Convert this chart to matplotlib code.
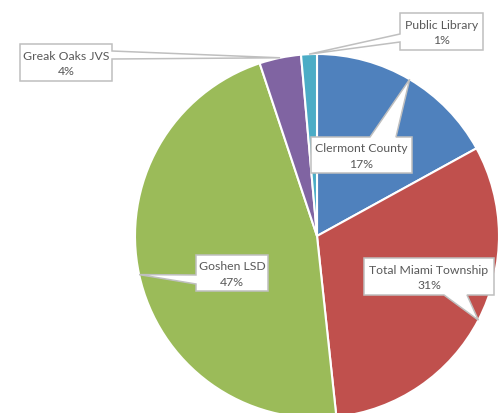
import numpy as np
import matplotlib.pyplot as plt
from matplotlib.patches import Polygon

labels = ['Clermont County', 'Total Miami Township', 'Goshen LSD', 'Greak Oaks JVS', 'Public Library']
values = [17.0, 31.3, 46.6, 3.7, 1.4]
pct_text = ['17%', '31%', '47%', '4%', '1%']
colors = ['#4F81BD', '#C0504D', '#9BBB59', '#8064A2', '#4BACC6']

W, H = 500, 414
cx, cy, R = 317, 237, 182  # pixel coords (y down)

# callout layout: box (x0, y0, x1, y1) in pixels, side of pointer, base positions
callouts = [
    ((311, 138, 412, 174), 'top', (370, 396)),
    ((364, 259, 494, 296), 'bottom', (444, 467)),
    ((196, 256, 268, 292), 'left', (276, 285)),
    ((20, 45, 112, 82), 'right', (52, 60)),
    ((400, 14, 483, 51), 'left', (35, 43)),
]

fig = plt.figure(figsize=(W / 100, H / 100), dpi=100)
ax = fig.add_axes([0, 0, 1, 1])

wedges, _ = ax.pie(values, colors=colors, startangle=90, counterclock=False,
                   center=(cx, cy), radius=R, frame=True,
                   wedgeprops=dict(edgecolor='white', linewidth=1.5))
ax.set_xlim(0, W)
ax.set_ylim(H, 0)
ax.set_aspect('equal')
ax.axis('off')

# pie drawn in y-up sense; since y axis is flipped, mirror the angles
for w in wedges:
    t1, t2 = w.theta1, w.theta2
    w.set_theta1(-t2)
    w.set_theta2(-t1)


def callout_poly(box, side, base, tip):
    x0, y0, x1, y1 = box
    b0, b1 = base
    if side == 'top':
        pts = [(x0, y0), (b0, y0), tip, (b1, y0), (x1, y0), (x1, y1), (x0, y1)]
    elif side == 'bottom':
        pts = [(x0, y0), (x1, y0), (x1, y1), (b1, y1), tip, (b0, y1), (x0, y1)]
    elif side == 'left':
        pts = [(x0, y0), (x1, y0), (x1, y1), (x0, y1), (x0, b1), tip, (x0, b0)]
    else:
        pts = [(x0, y0), (x1, y0), (x1, b0), tip, (x1, b1), (x1, y1), (x0, y1)]
    return pts


total = sum(values)
start = 90.0
for i, (lab, pct) in enumerate(zip(labels, pct_text)):
    frac = values[i] / total * 360
    mid = np.radians(start - frac / 2)
    start -= frac
    tip = (cx + R * np.cos(mid), cy - R * np.sin(mid))
    box, side, base = callouts[i]
    poly = Polygon(callout_poly(box, side, base, tip), closed=True,
                   facecolor='white', edgecolor='#BFBFBF', linewidth=1.1,
                   joinstyle='miter', zorder=5)
    ax.add_patch(poly)
    x0, y0, x1, y1 = box
    ax.text((x0 + x1) / 2, (y0 + y1) / 2 + 0.5, lab + '\n' + pct, ha='center', va='center',
            fontsize=8.8, color='#595959', family='Lato', linespacing=1.5, zorder=6)

fig.savefig('out.png', dpi=100)
